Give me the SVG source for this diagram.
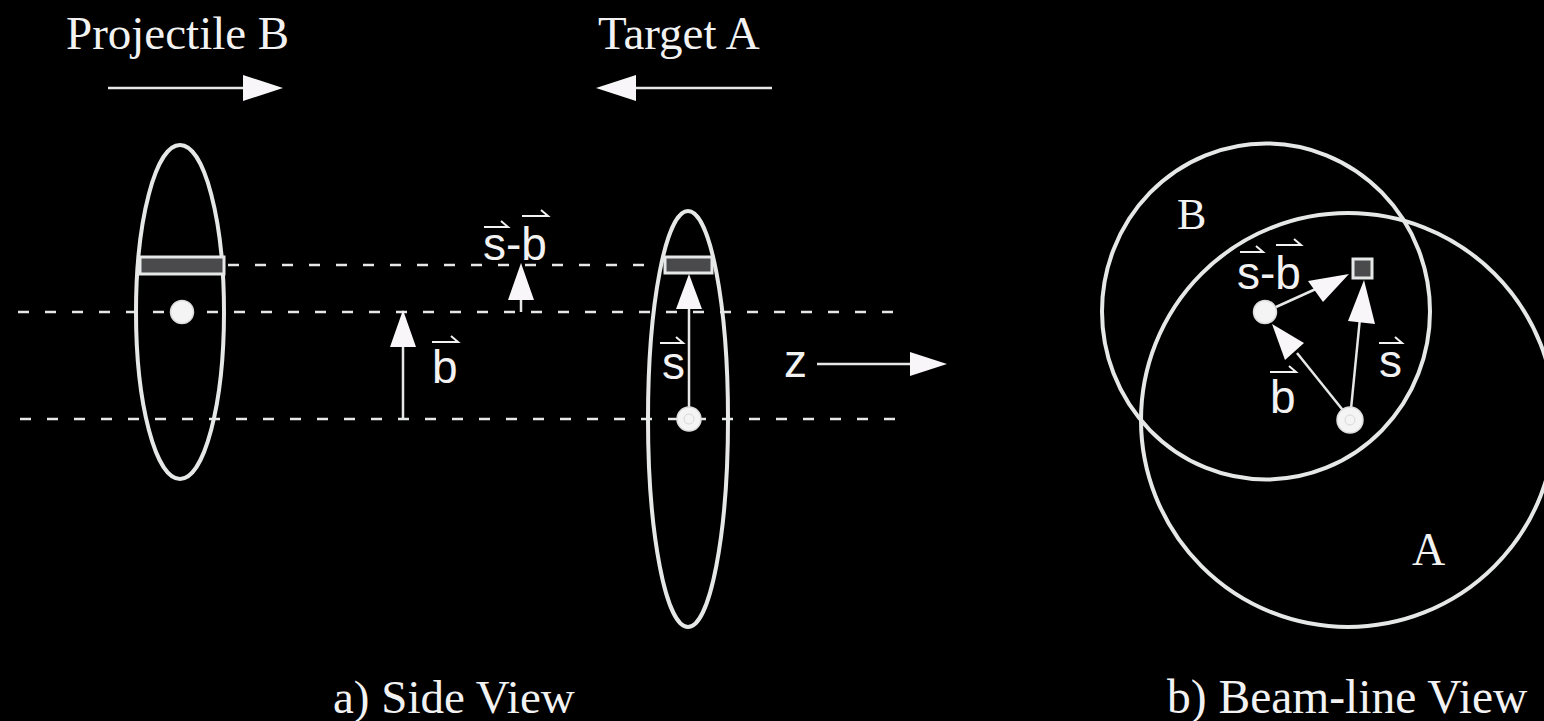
<svg xmlns="http://www.w3.org/2000/svg" width="1544" height="721" viewBox="0 0 1544 721">
<style>
.bg{fill:#000}
.ln{stroke:#e6e8e7;fill:none;stroke-width:4}
.dash{stroke:#e6e8e7;stroke-width:2.5;stroke-dasharray:11 16;fill:none}
.shaft{stroke:#e6e8e7;stroke-width:2.5;fill:none}
.head{fill:#f8f6f8;stroke:none}
.band{fill:#4a4a4c;stroke:#e6e8e7;stroke-width:3}
.dot{fill:#f4f4f4;stroke:#dcdcdc;stroke-width:1.5}
.serif{font-family:"Liberation Serif","Times New Roman",serif;fill:#f2f2f2;font-size:47px}
.sans{font-family:"Liberation Sans",Arial,sans-serif;fill:#f2f2f2;font-size:46px}
.vec{stroke:#f2f2f2;stroke-width:2;fill:none}
</style>
<rect class="bg" x="0" y="0" width="1544" height="721"/>

<g id="labels">
<text class="serif" x="66" y="49">Projectile B</text>
<text class="serif" x="598" y="49">Target A</text>
<text class="serif" x="333" y="713">a) Side View</text>
<text class="serif" x="1167" y="713" style="font-size:47.5px">b) Beam-line View</text>
</g>

<g id="connectors">
<line class="dash" x1="228" y1="265" x2="662" y2="265"/>
<line class="dash" x1="18" y1="312" x2="905" y2="312"/>
<line class="dash" x1="20" y1="419" x2="905" y2="419"/>
<!-- top arrows -->
<line class="shaft" x1="108" y1="88" x2="246" y2="88"/>
<polygon class="head" points="283,88 243,75 243,101"/>
<line class="shaft" x1="772" y1="88" x2="633" y2="88"/>
<polygon class="head" points="596,88 636,75 636,101"/>
<!-- b side -->
<line class="shaft" x1="403" y1="419" x2="403" y2="345"/>
<polygon class="head" points="403,310 390,347 416,347"/>
<!-- s-b side -->
<line class="shaft" x1="521" y1="312" x2="521" y2="298"/>
<polygon class="head" points="521,263 508,300 534,300"/>
<!-- z -->
<line class="shaft" x1="817" y1="364" x2="912" y2="364"/>
<polygon class="head" points="947,364 910,352 910,376"/>
</g>

<g id="projectile-B-side">
<ellipse class="ln" cx="180" cy="312" rx="44" ry="167"/>
<rect class="band" x="140" y="257" width="84" height="17"/>
<circle class="dot" cx="182" cy="312" r="11.5"/>
</g>

<g id="target-A-side">
<ellipse class="ln" cx="688" cy="419" rx="40" ry="208"/>
<rect class="band" x="665" y="257" width="47" height="16"/>
<line class="shaft" x1="689" y1="419" x2="689" y2="306"/>
<polygon class="head" points="689,274 676,309 702,309"/>
<circle class="dot" cx="689" cy="419" r="12"/>
<circle cx="689" cy="419" r="5" fill="none" stroke="#d8d8d8" stroke-width="1"/>
</g>

<g id="side-vector-labels">
<text class="sans" x="432" y="383">b</text>
<path class="vec" d="M432,342 L458,342 L451,336"/>
<text class="sans" x="662" y="379">s</text>
<path class="vec" d="M660,343 L683,343 L676,337"/>
<text class="sans" x="483" y="260">s-b</text>
<path class="vec" d="M484,227 L508,227 L501,221"/>
<path class="vec" d="M522,216 L548,216 L541,210"/>
<text class="sans" x="784" y="377">z</text>
</g>

<g id="beam-B">
<ellipse class="ln" cx="1266" cy="311.5" rx="164" ry="168"/>
<text class="serif" x="1177" y="229" style="font-size:44px">B</text>
</g>

<g id="beam-A">
<circle class="ln" cx="1348" cy="420" r="207"/>
<text class="serif" x="1412" y="565" style="font-size:46px">A</text>
</g>

<g id="beam-vectors">
<line class="shaft" x1="1276" y1="307" x2="1318" y2="288"/>
<polygon class="head" points="1349,274 1308,281 1323,302"/>
<line class="shaft" x1="1350" y1="419" x2="1297" y2="353"/>
<polygon class="head" points="1272,324 1304,343 1285,360"/>
<line class="shaft" x1="1350" y1="419" x2="1360" y2="318"/>
<polygon class="head" points="1364,280 1375,324 1348,321"/>
<circle class="dot" cx="1265" cy="312" r="11.5"/>
<circle class="dot" cx="1350" cy="420" r="13"/>
<circle cx="1350" cy="420" r="5" fill="none" stroke="#d8d8d8" stroke-width="1"/>
<rect class="band" x="1353" y="259" width="19" height="19"/>
<text class="sans" x="1237" y="289">s-b</text>
<path class="vec" d="M1240,252 L1263,252 L1256,246"/>
<path class="vec" d="M1276,245 L1301,245 L1294,239"/>
<text class="sans" x="1270" y="413">b</text>
<path class="vec" d="M1270,372 L1296,372 L1289,366"/>
<text class="sans" x="1379" y="377">s</text>
<path class="vec" d="M1379,343 L1402,343 L1395,337"/>
</g>
</svg>
